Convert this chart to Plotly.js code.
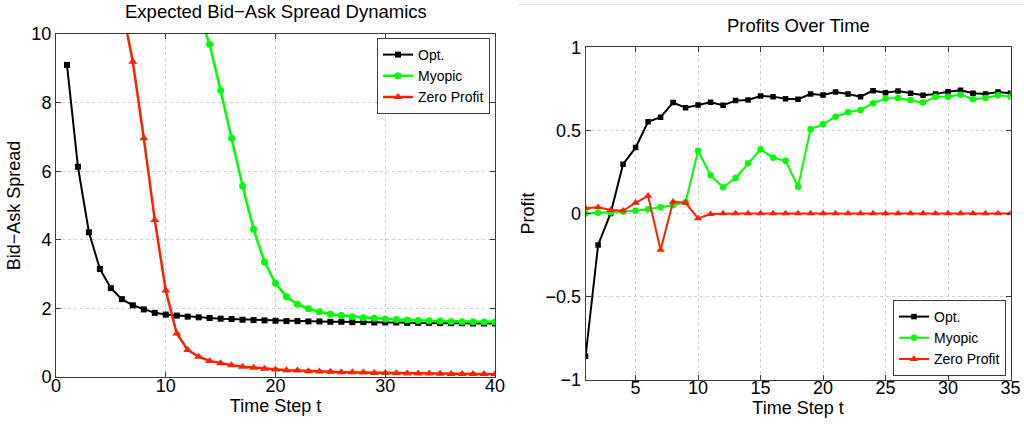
<!DOCTYPE html>
<html>
<head>
<meta charset="utf-8">
<script src="https://cdn.plot.ly/plotly-3.0.1.min.js"></script>
<style>html,body{margin:0;padding:0;background:#fff;}#chart{width:1024px;height:426px;}</style>
</head>
<body>
<div id="chart"></div>
<script>
// ---------- Left chart: Expected Bid-Ask Spread Dynamics ----------
const spreadOptX = [1,2,3,4,5,6,7,8,9,10,11,12,13,14,15,16,17,18,19,20,21,22,23,24,25,26,27,28,29,30,31,32,33,34,35,36,37,38,39,40];
const spreadOpt = [9.1,6.13,4.22,3.15,2.59,2.27,2.09,1.97,1.87,1.82,1.79,1.76,1.74,1.72,1.70,1.69,1.67,1.66,1.65,1.64,1.63,1.63,1.62,1.62,1.61,1.61,1.60,1.60,1.59,1.59,1.59,1.58,1.58,1.58,1.57,1.57,1.57,1.56,1.56,1.56];
const spreadMyopicX = [13,14,15,16,17,18,19,20,21,22,23,24,25,26,27,28,29,30,31,32,33,34,35,36,37,38,39,40];
const spreadMyopic = [10.6,9.70,8.35,6.96,5.57,4.31,3.35,2.73,2.34,2.12,1.99,1.90,1.83,1.79,1.76,1.73,1.71,1.69,1.68,1.66,1.65,1.64,1.63,1.62,1.61,1.61,1.60,1.60];
const spreadZeroX = [6,7,8,9,10,11,12,13,14,15,16,17,18,19,20,21,22,23,24,25,26,27,28,29,30,31,32,33,34,35,36,37,38,39,40];
const spreadZero = [10.8,9.19,6.96,4.58,2.52,1.27,0.79,0.59,0.47,0.40,0.34,0.30,0.27,0.24,0.22,0.20,0.19,0.17,0.16,0.15,0.14,0.135,0.13,0.12,0.115,0.11,0.105,0.10,0.10,0.095,0.09,0.09,0.085,0.085,0.08];
const spreadXTicks = [0,10,20,30,40];
const spreadYTicks = [0,2,4,6,8,10];

// ---------- Right chart: Profits Over Time ----------
const profitX = [1,2,3,4,5,6,7,8,9,10,11,12,13,14,15,16,17,18,19,20,21,22,23,24,25,26,27,28,29,30,31,32,33,34,35];
const profitOpt = [-0.86,-0.19,0.0,0.296,0.396,0.552,0.579,0.667,0.636,0.653,0.669,0.651,0.679,0.683,0.707,0.703,0.69,0.687,0.719,0.713,0.731,0.719,0.703,0.739,0.727,0.737,0.723,0.711,0.719,0.733,0.741,0.723,0.719,0.731,0.723];
const profitMyopic = [0.0,0.004,0.005,0.01,0.016,0.025,0.037,0.049,0.067,0.377,0.229,0.157,0.213,0.302,0.386,0.335,0.317,0.161,0.506,0.536,0.582,0.609,0.623,0.663,0.691,0.695,0.683,0.667,0.703,0.703,0.715,0.687,0.695,0.711,0.703];
const profitZero = [0.031,0.037,0.020,0.016,0.064,0.105,-0.220,0.070,0.064,-0.030,-0.004,0,0,0,0,0,0,0,0,0,0,0,0,0,0,0,0,0,0,0,0,0,0,0,0];
const profitXTicks = [5,10,15,20,25,30,35];
const profitYTicks = [-1,-0.5,0,0.5,1];

const seriesNames = ['Opt.','Myopic','Zero Profit'];
const colors = ['#000000','#00ff00','#ff2200'];
const symbols = ['square','circle','triangle-up'];

const FONT = 'Liberation Sans, Arial, Helvetica, sans-serif';

function tr(x, y, i, xa, ya, leg, lw, ms) {
  return {
    x: x, y: y, type: 'scatter', mode: 'lines+markers', name: seriesNames[i],
    xaxis: xa, yaxis: ya, legend: leg, showlegend: true,
    line: {color: colors[i], width: lw[i]},
    marker: {color: colors[i], symbol: symbols[i], size: ms[i]}
  };
}
const lwL = [2, 2.5, 2.5], msL = [6, 7, 8];
const lwR = [2, 2, 2], msR = [5.5, 6.5, 7.5];

const data = [
  tr(spreadOptX, spreadOpt, 0, 'x', 'y', 'legend', lwL, msL),
  tr(spreadMyopicX, spreadMyopic, 1, 'x', 'y', 'legend', lwL, msL),
  tr(spreadZeroX, spreadZero, 2, 'x', 'y', 'legend', lwL, msL),
  tr(profitX, profitOpt, 0, 'x2', 'y2', 'legend2', lwR, msR),
  tr(profitX, profitMyopic, 1, 'x2', 'y2', 'legend2', lwR, msR),
  tr(profitX, profitZero, 2, 'x2', 'y2', 'legend2', lwR, msR)
];

const W = 1024, H = 426;
function axisBase() {
  return {
    showline: true, linecolor: '#3c3c3c', linewidth: 1, mirror: 'ticks',
    ticks: 'inside', ticklen: 5, tickcolor: '#3c3c3c', tickwidth: 1,
    showgrid: true, gridcolor: '#cfcfcf', griddash: 'dot', gridwidth: 1,
    zeroline: false, tickfont: {size: 18, color: '#000', family: FONT},
    fixedrange: true
  };
}

const xa1 = Object.assign(axisBase(), {
  domain: [56/W, 495/W], range: [0, 40], tickvals: spreadXTicks, anchor: 'y',
  ticklabelstandoff: -8,
  title: {text: 'Time Step t', font: {size: 18, color: '#000'}, standoff: 2}
});
const ya1 = Object.assign(axisBase(), {
  domain: [1 - 377/H, 1 - 34/H], range: [0, 10], tickvals: spreadYTicks, anchor: 'x',
  title: {text: 'Bid\u2212Ask Spread', font: {size: 18, color: '#000'}, standoff: 6}
});
const xa2 = Object.assign(axisBase(), {
  domain: [585.6/W, 1010.5/W], range: [1, 35], tickvals: profitXTicks, anchor: 'y2',
  ticklabelstandoff: -8,
  title: {text: 'Time Step t', font: {size: 18, color: '#000'}, standoff: 2}
});
const ya2 = Object.assign(axisBase(), {
  domain: [1 - 379.5/H, 1 - 47.3/H], range: [-1, 1], tickvals: profitYTicks, anchor: 'x2',
  title: {text: 'Profit', font: {size: 18, color: '#000'}, standoff: 6}
});

const legendBase = {
  bgcolor: '#ffffff', bordercolor: '#3c3c3c', borderwidth: 1,
  font: {size: 14, color: '#000', family: FONT}, itemwidth: 30,
  tracegroupgap: 0
};

const layout = {
  width: W, height: H,
  margin: {l: 0, r: 0, t: 0, b: 0, pad: 0},
  paper_bgcolor: '#fff', plot_bgcolor: '#fff',
  font: {family: FONT, color: '#000'},
  showlegend: true,
  xaxis: xa1, yaxis: ya1, xaxis2: xa2, yaxis2: ya2,
  legend: Object.assign({}, legendBase, {x: 490/W, y: 1 - 38/H, xanchor: 'right', yanchor: 'top'}),
  legend2: Object.assign({}, legendBase, {x: 1006/W, y: 1 - 376/H, xanchor: 'right', yanchor: 'bottom'}),
  annotations: [
    {text: 'Expected Bid\u2212Ask Spread Dynamics', xref: 'paper', yref: 'paper',
     x: 275.5/W, y: 1 - 12/H, xanchor: 'center', yanchor: 'middle', showarrow: false,
     font: {size: 18.5, color: '#000', family: FONT}},
    {text: 'Profits Over Time', xref: 'paper', yref: 'paper',
     x: 798/W, y: 1 - 26/H, xanchor: 'center', yanchor: 'middle', showarrow: false,
     font: {size: 18.5, color: '#000', family: FONT}}
  ],
  shapes: [
    {type: 'line', xref: 'paper', yref: 'paper', x0: 518/W, x1: 1, y0: 1 - 4.7/H, y1: 1 - 4.7/H,
     line: {color: '#dddddd', width: 1}}
  ]
};

Plotly.newPlot('chart', data, layout, {displayModeBar: false, staticPlot: true});
</script>
</body>
</html>
